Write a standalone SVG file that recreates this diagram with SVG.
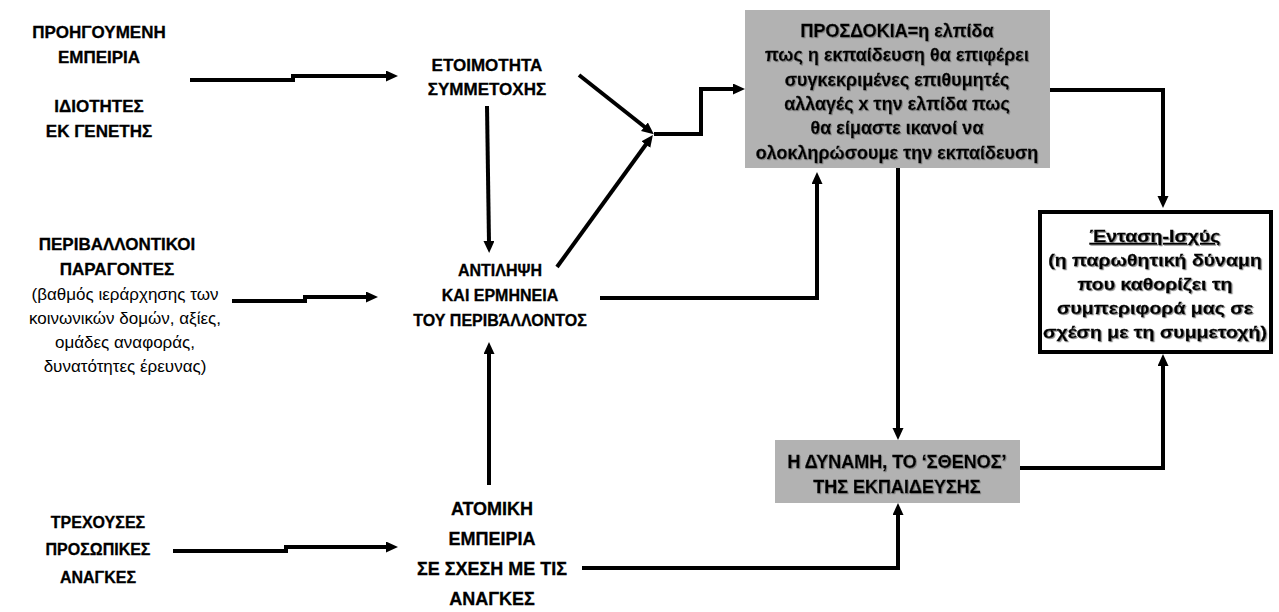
<svg xmlns="http://www.w3.org/2000/svg" width="1279" height="612" viewBox="0 0 1279 612">
<style>
text{font-family:"Liberation Sans",Arial,sans-serif;font-size:16px;fill:#000;text-anchor:middle}
.b{font-weight:bold;stroke:#000;stroke-width:0.3}
.f17{font-size:17px}
.f18{font-size:18px}
.sh{filter:url(#shadow)}
.con{fill:none;stroke:#000;stroke-width:4;marker-end:url(#ah)}
.gray{fill:#b2b2b2;stroke:none}
</style>
<defs>
<marker id="ah" markerUnits="userSpaceOnUse" markerWidth="12" markerHeight="12" refX="2" refY="5.5" orient="auto">
<path d="M0,0 L12,5.5 L0,11 z" fill="#000"/>
</marker>
<filter id="shadow" x="-5%" y="-20%" width="110%" height="140%">
<feDropShadow dx="1" dy="1" stdDeviation="0.4" flood-color="#777" flood-opacity="0.8"/>
</filter>
</defs>

<g id="connectors">
<path class="con" d="M190,80 H293 V76 H388"/>
<path class="con" d="M232,301 H305 V297 H368"/>
<path class="con" d="M173,551 H286 V547 H388"/>
<path class="con" d="M487,106 L489,243"/>
<path class="con" d="M489,485 V352"/>
<path class="con" d="M579,75 L646,128"/>
<path class="con" d="M557,267 L647,143"/>
<path class="con" d="M654,134 H701 V89 H735"/>
<path class="con" d="M600,298 H817 V182"/>
<path class="con" d="M1050,90 H1163 V198"/>
<path class="con" d="M898,168 V430"/>
<path class="con" d="M582,568 H898 V513"/>
<path class="con" d="M1020,468 H1163 V364"/>
</g>

<g id="n-proigoumeni">
<text class="b f17" x="99" y="38">ΠΡΟΗΓΟΥΜΕΝΗ</text>
<text class="b f17" x="99" y="63">ΕΜΠΕΙΡΙΑ</text>
<text class="b f17" x="99" y="112">ΙΔΙΟΤΗΤΕΣ</text>
<text class="b f17" x="99" y="137">ΕΚ ΓΕΝΕΤΗΣ</text>
</g>

<g id="n-perivallontikoi">
<text class="b f17" x="117" y="250">ΠΕΡΙΒΑΛΛΟΝΤΙΚΟΙ</text>
<text class="b f17" x="117" y="275">ΠΑΡΑΓΟΝΤΕΣ</text>
<text class="f17" x="125" y="300">(βαθμός ιεράρχησης των</text>
<text class="f17" x="125" y="324">κοινωνικών δομών, αξίες,</text>
<text class="f17" x="125" y="348">ομάδες αναφοράς,</text>
<text class="f17" x="125" y="372">δυνατότητες έρευνας)</text>
</g>

<g id="n-trexouses">
<text class="b" x="98" y="528">ΤΡΕΧΟΥΣΕΣ</text>
<text class="b" x="98" y="555">ΠΡΟΣΩΠΙΚΕΣ</text>
<text class="b" x="98" y="583">ΑΝΑΓΚΕΣ</text>
</g>

<g id="n-etoimotita">
<text class="b f17" x="487" y="71">ΕΤΟΙΜΟΤΗΤΑ</text>
<text class="b f17" x="487" y="95">ΣΥΜΜΕΤΟΧΗΣ</text>
</g>

<g id="n-antilipsi">
<text class="b" x="500" y="276">ΑΝΤΙΛΗΨΗ</text>
<text class="b" x="500" y="301">ΚΑΙ ΕΡΜΗΝΕΙΑ</text>
<text class="b" x="500" y="326">ΤΟΥ ΠΕΡΙΒΆΛΛΟΝΤΟΣ</text>
</g>

<g id="n-atomiki">
<text class="b f18" x="492" y="515">ΑΤΟΜΙΚΗ</text>
<text class="b f18" x="492" y="545">ΕΜΠΕΙΡΙΑ</text>
<text class="b f18" x="492" y="575">ΣΕ ΣΧΕΣΗ ΜΕ ΤΙΣ</text>
<text class="b f18" x="492" y="605">ΑΝΑΓΚΕΣ</text>
</g>

<g id="n-prosdokia">
<rect class="gray" x="745" y="10" width="305" height="158"/>
<g class="sh">
<text class="b f18" x="897" y="37">ΠΡΟΣΔΟΚΙΑ=η ελπίδα</text>
<text class="b f18" x="897" y="61">πως η εκπαίδευση θα επιφέρει</text>
<text class="b f18" x="897" y="86">συγκεκριμένες επιθυμητές</text>
<text class="b f18" x="897" y="110">αλλαγές x την ελπίδα πως</text>
<text class="b f18" x="897" y="134">θα είμαστε ικανοί να</text>
<text class="b f18" x="897" y="159">ολοκληρώσουμε την εκπαίδευση</text>
</g>
</g>

<g id="n-dynami">
<rect class="gray" x="775" y="440" width="245" height="63"/>
<g class="sh">
<text class="b f18" x="897" y="468">Η ΔΥΝΑΜΗ, ΤΟ ‘ΣΘΕΝΟΣ’</text>
<text class="b f18" x="897" y="493">ΤΗΣ ΕΚΠΑΙΔΕΥΣΗΣ</text>
</g>
</g>

<g id="n-entasi">
<rect x="1040" y="212" width="231" height="140" fill="#fff" stroke="#000" stroke-width="4"/>
<g class="sh" transform="translate(1155,0) scale(1.15,1)">
<text class="b f17" x="0" y="242" text-decoration="underline">Ένταση-Ισχύς</text>
<text class="b f17" x="0" y="266">(η παρωθητική δύναμη</text>
<text class="b f17" x="0" y="290">που καθορίζει τη</text>
<text class="b f17" x="0" y="314">συμπεριφορά μας σε</text>
<text class="b f17" x="0" y="338">σχέση με τη συμμετοχή)</text>
</g>
</g>
</svg>
